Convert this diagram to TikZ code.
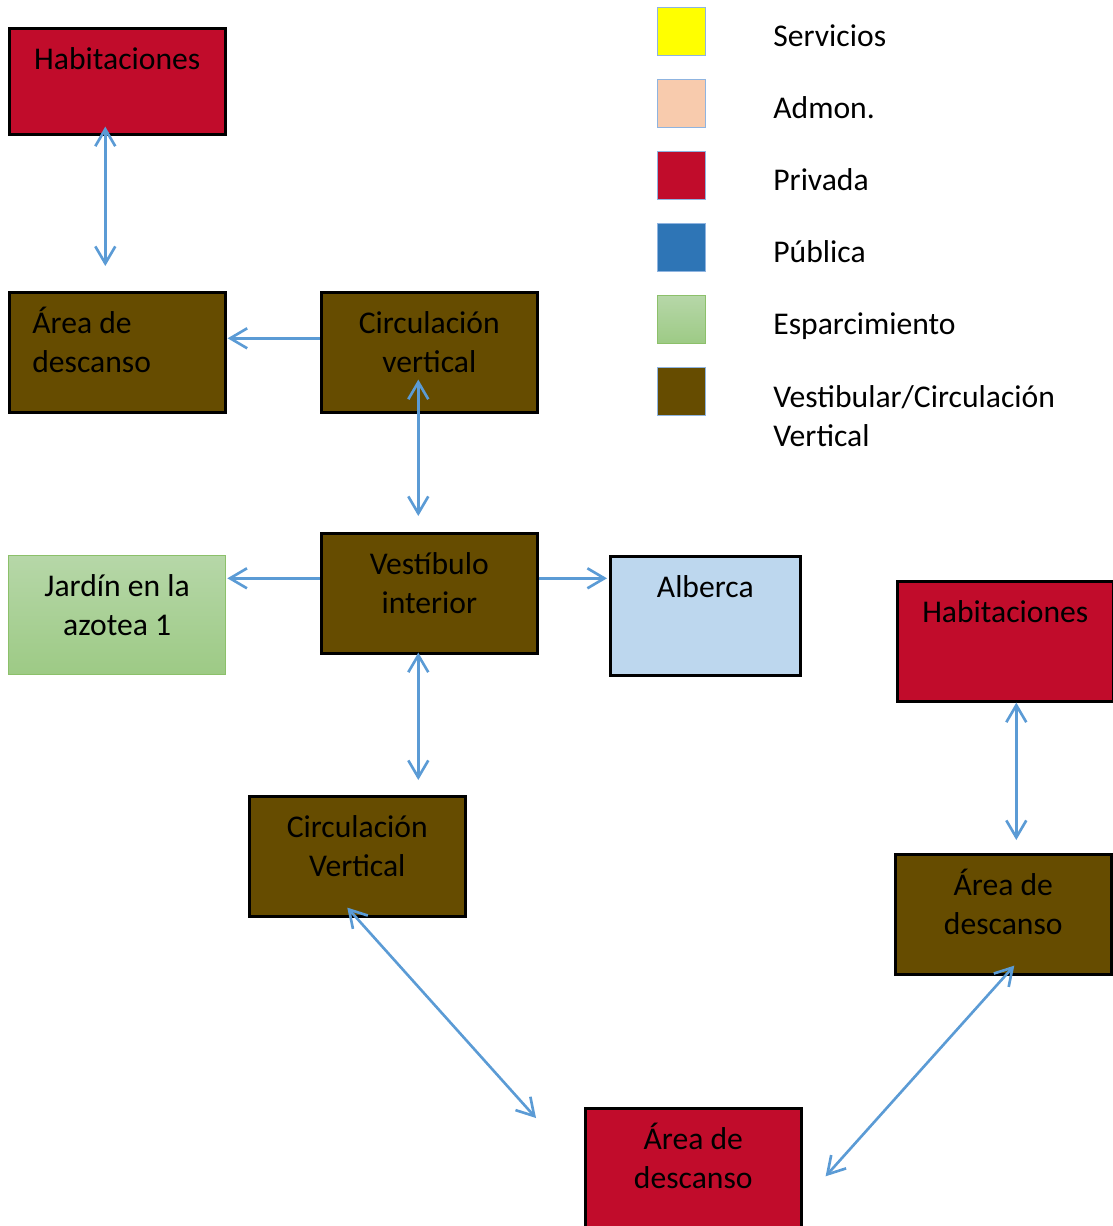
\documentclass[tikz,border=0pt]{standalone}
\usepackage{fontspec}
\setmainfont{Carlito}
\usetikzlibrary{arrows.meta,calc}
\definecolor{privada}{RGB}{193,12,43}
\definecolor{vestib}{RGB}{102,76,0}
\definecolor{alberca}{RGB}{189,215,238}
\definecolor{publica}{RGB}{46,117,182}
\definecolor{admon}{RGB}{248,203,173}
\definecolor{servicio}{RGB}{255,255,0}
\definecolor{jardintop}{RGB}{182,215,168}
\definecolor{jardinbot}{RGB}{157,202,133}
\definecolor{jardinline}{RGB}{140,192,106}
\definecolor{legline}{RGB}{143,180,224}
\definecolor{flecha}{RGB}{91,155,213}
\newcommand{\roomtext}[3]{\parbox[t][#2][t]{#1}{\centering\strut #3}}

\begin{document}
\begin{tikzpicture}[x=0.02cm, y=-0.02cm, >={Straight Barb[length=0.34cm,width=0.4cm]},
 every node/.style={font=\fontsize{18}{22.1}\selectfont},
 room/.style={draw=black, line width=1.5pt, anchor=north west, inner xsep=0.13cm, inner ysep=0.28cm},
 privbox/.style={room, fill=privada},
 vestbox/.style={room, fill=vestib},
 legbox/.style={draw=legline, line width=0.8pt, anchor=north west, minimum size=0.96cm, inner sep=0pt},
 legtext/.style={anchor=base west, inner sep=0pt, align=left},
 link/.style={draw=flecha, line width=1.5pt}]
\useasboundingbox (0,0) rectangle (1112,1226);
% zonas
\node[privbox] (hab1) at (8,27) {\roomtext{4.06cm}{1.56cm}{Habitaciones}};
\node[vestbox, inner xsep=0.46cm] (area1) at (8,291) {\roomtext{3.4cm}{1.84cm}{\raggedright Área de\\descanso}};
\node[vestbox] (circ1) at (320,291) {\roomtext{4.06cm}{1.84cm}{Circulación\\vertical}};
\node[vestbox] (vest) at (320,532) {\roomtext{4.06cm}{1.84cm}{Vestíbulo\\interior}};
\node[room, draw=jardinline, line width=0.8pt, top color=jardintop, bottom color=jardinbot] (jardin) at (8,555) {\roomtext{4.08cm}{1.82cm}{Jardín en la\\azotea 1}};
\node[room, fill=alberca] (alberca) at (609,555) {\roomtext{3.54cm}{1.82cm}{Alberca}};
\node[privbox] (hab2) at (896,580) {\roomtext{4.06cm}{1.84cm}{Habitaciones}};
\node[vestbox] (area2) at (894,853) {\roomtext{4.06cm}{1.84cm}{Área de\\descanso}};
\node[vestbox] (circ2) at (248,795) {\roomtext{4.06cm}{1.84cm}{Circulación\\Vertical}};
\node[privbox] (area3) at (584,1107) {\roomtext{4.06cm}{1.84cm}{Área de\\descanso}};
% leyenda
\foreach \i/\c/\t in {0/servicio/Servicios, 1/admon/Admon., 2/privada/Privada, 3/publica/Pública} {
  \node[legbox, fill=\c] (sw\i) at (657,{7+72*\i}) {};
  \node[legtext] (lt\i) at (773,{47+72*\i}) {\t};
}
\node[legbox, draw=jardinline, top color=jardintop, bottom color=jardinbot] (sw4) at (657,295) {};
\node[legtext] (lt4) at (773,335) {Esparcimiento};
\node[legbox, fill=vestib] (sw5) at (657,367) {};
\node[legtext] (lt5) at (773,446) {Vestibular/Circulación\\Vertical};
% relaciones
\draw[link,<->] ($(hab1.south)+(-12,-9)$) -- ($(area1.north)+(-12,-25)$);
\draw[link,->] ($(circ1.west)+(0,-14)$) -- ($(circ1.west -| area1.east)+(1,-14)$);
\draw[link,<->] ($(circ1.south)+(-11,-34)$) -- ($(vest.north)+(-11,-16)$);
\draw[link,->] ($(vest.west)+(0,-15)$) -- ($(vest.west -| jardin.east)+(1,-15)$);
\draw[link,->] ($(vest.east)+(0,-15)$) -- ($(vest.east -| alberca.west)+(-2,-15)$);
\draw[link,<->] ($(vest.south)+(-11,-2)$) -- ($(vest.south |- circ2.north)+(-11,-15)$);
\draw[link,<->] ($(hab2.south)+(11,0)$) -- ($(area2.north)+(13,-13)$);
\draw[link,<->] ($(circ2.south)+(-10,-10)$) -- ($(area3.north west)+(-48,11)$);
\draw[link,<->] ($(area3.east)+(23,8)$) -- ($(area2.south)+(11,-10)$);
\end{tikzpicture}
\end{document}
